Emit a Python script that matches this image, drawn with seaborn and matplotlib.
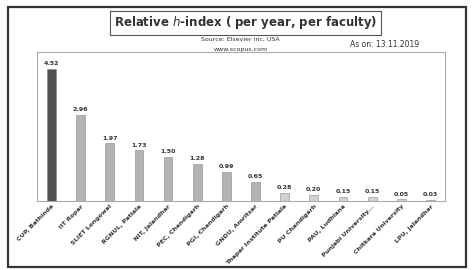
import seaborn as sns
import pandas as pd
import matplotlib.pyplot as plt
from matplotlib.patches import Rectangle

institutes = ["CUP, Bathinda", "IIT Ropar", "SLIET Longowal", "RGNUL, Patiala",
              "NIT, Jalandhar", "PEC, Chandigarh", "PGI, Chandigarh", "GNDU, Amritsar",
              "Thapar Institute Patiala", "PU Chandigarh", "PAU, Ludhiana",
              "Punjabi University...", "Chitkara University", "LPU, Jalandhar"]
h_index = [4.52, 2.96, 1.97, 1.73, 1.50, 1.28, 0.99, 0.65, 0.28, 0.20, 0.15, 0.15, 0.05, 0.03]

df = pd.DataFrame({"inst": institutes, "val": h_index})
colors = ["#505050"] + ["#b4b4b4"] * 7 + ["#d2d2d2"] * 6

sns.set_style("white")
plt.rcParams['font.family'] = ['DejaVu Sans']

fig = plt.figure(figsize=(4.72, 2.70), dpi=100)
ax = fig.add_axes([0.078, 0.256, 0.865, 0.551])
sns.barplot(data=df, x="inst", y="val", hue="inst", palette=colors,
            legend=False, width=0.3, ax=ax, edgecolor="#888888", linewidth=0.4)
for c in ax.containers:
    ax.bar_label(c, fmt="%.2f", fontsize=4.5, fontweight="bold", padding=2, color="#333333")

ax.set_ylim(0, 5.1)
ax.set_xlim(-0.5, 13.5)
ax.set_yticks([])
ax.set_xlabel("")
ax.set_ylabel("")
ax.tick_params(axis="x", length=0, pad=2)
plt.setp(ax.get_xticklabels(), rotation=45, ha="right", rotation_mode="anchor",
         fontsize=4.5, fontweight="bold", color="#333333")
for s in ax.spines.values():
    s.set_color("#aaaaaa")
    s.set_linewidth(0.8)

# outer frame
fig.add_artist(Rectangle((0.017, 0.01), 0.97, 0.965, transform=fig.transFigure,
                         fill=False, edgecolor="#333333", linewidth=1.6))

fig.text(0.52, 0.915, "Relative $\\mathit{h}$-index ( per year, per faculty)",
         ha="center", va="center", fontsize=8.5, fontweight="bold", color="#333333",
         bbox=dict(boxstyle="square,pad=0.3", fc="white", ec="#555555", lw=0.8))
fig.text(0.51, 0.855, "Source: Elsevier Inc, USA", ha="center", va="center",
         fontsize=4.5, color="#333333")
fig.text(0.51, 0.818, "www.scopus.com", ha="center", va="center",
         fontsize=4.5, color="#333333")
fig.text(0.815, 0.837, "As on: 13.11.2019", ha="center", va="center",
         fontsize=5.5, color="#333333")

fig.savefig("out.png", dpi=100)
